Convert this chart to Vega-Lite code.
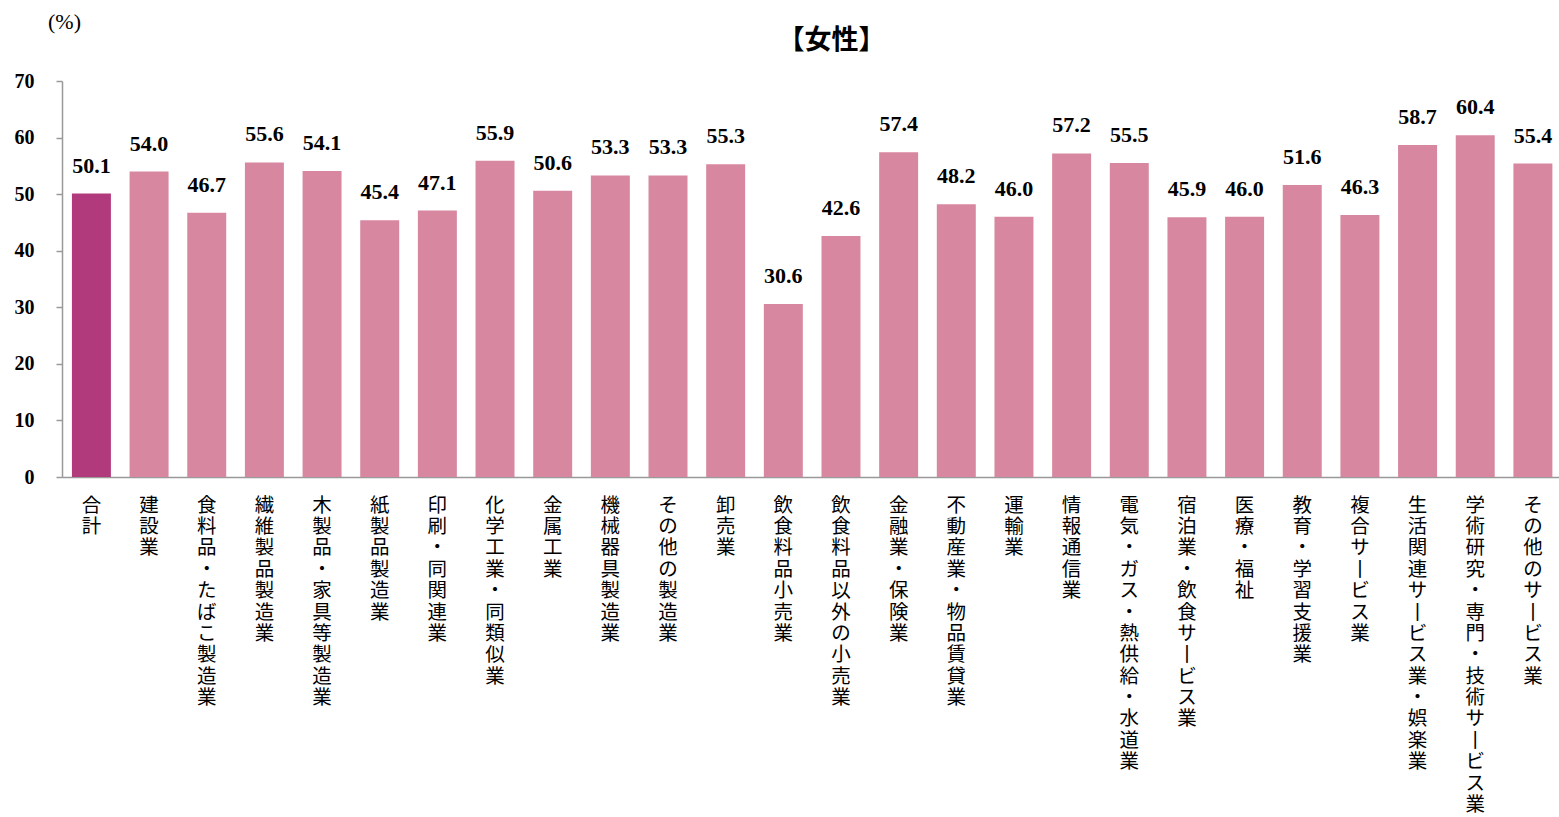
{
  "$schema": "https://vega.github.io/schema/vega-lite/v6.json",
  "autosize": "none",
  "padding": {"left": 62, "top": 81, "right": 0, "bottom": 340},
  "width": 1497,
  "height": 396,
  "background": "white",
  "title": {
    "text": "【女性】",
    "font": "Noto Sans CJK JP",
    "fontSize": 27,
    "fontWeight": "bold",
    "color": "#000000",
    "anchor": "middle",
    "frame": "group",
    "dx": 21,
    "offset": -45
  },
  "data": {
    "values": [
      {"industry": "合計", "rate": 50.1, "group": "total"},
      {"industry": "建設業", "rate": 54.0, "group": "industry"},
      {"industry": "食料品・たばこ製造業", "rate": 46.7, "group": "industry"},
      {"industry": "繊維製品製造業", "rate": 55.6, "group": "industry"},
      {"industry": "木製品・家具等製造業", "rate": 54.1, "group": "industry"},
      {"industry": "紙製品製造業", "rate": 45.4, "group": "industry"},
      {"industry": "印刷・同関連業", "rate": 47.1, "group": "industry"},
      {"industry": "化学工業・同類似業", "rate": 55.9, "group": "industry"},
      {"industry": "金属工業", "rate": 50.6, "group": "industry"},
      {"industry": "機械器具製造業", "rate": 53.3, "group": "industry"},
      {"industry": "その他の製造業", "rate": 53.3, "group": "industry"},
      {"industry": "卸売業", "rate": 55.3, "group": "industry"},
      {"industry": "飲食料品小売業", "rate": 30.6, "group": "industry"},
      {"industry": "飲食料品以外の小売業", "rate": 42.6, "group": "industry"},
      {"industry": "金融業・保険業", "rate": 57.4, "group": "industry"},
      {"industry": "不動産業・物品賃貸業", "rate": 48.2, "group": "industry"},
      {"industry": "運輸業", "rate": 46.0, "group": "industry"},
      {"industry": "情報通信業", "rate": 57.2, "group": "industry"},
      {"industry": "電気・ガス・熱供給・水道業", "rate": 55.5, "group": "industry"},
      {"industry": "宿泊業・飲食サービス業", "rate": 45.9, "group": "industry"},
      {"industry": "医療・福祉", "rate": 46.0, "group": "industry"},
      {"industry": "教育・学習支援業", "rate": 51.6, "group": "industry"},
      {"industry": "複合サービス業", "rate": 46.3, "group": "industry"},
      {"industry": "生活関連サービス業・娯楽業", "rate": 58.7, "group": "industry"},
      {"industry": "学術研究・専門・技術サービス業", "rate": 60.4, "group": "industry"},
      {"industry": "その他のサービス業", "rate": 55.4, "group": "industry"}
    ]
  },
  "encoding": {
    "x": {
      "field": "industry",
      "type": "nominal",
      "sort": null,
      "scale": {"paddingInner": 0.324, "paddingOuter": 0.1435, "align": 0.6},
      "axis": {
        "title": null,
        "domainColor": "#999999",
        "domainWidth": 1.5,
        "ticks": false,
        "labelAngle": 0,
        "labelAlign": "center",
        "labelBaseline": "top",
        "labelPadding": 19,
        "labelFont": "Noto Sans CJK JP",
        "labelFontSize": 19.5,
        "labelLineHeight": 21.4,
        "labelColor": "#000000",
        "labelLimit": 1000,
        "labelOverlap": false,
        "labelExpr": "split(replace(datum.label, /ー/g, '丨'), '')"
      }
    },
    "y": {
      "field": "rate",
      "type": "quantitative",
      "scale": {"domain": [0, 70], "nice": false},
      "axis": {
        "title": "(%)",
        "titleAngle": 0,
        "titleX": 2,
        "titleY": -60,
        "titleAlign": "center",
        "titleBaseline": "middle",
        "titleFont": "Liberation Serif",
        "titleFontSize": 22,
        "titleFontWeight": "normal",
        "titleColor": "#000000",
        "values": [0, 10, 20, 30, 40, 50, 60, 70],
        "grid": false,
        "domainColor": "#999999",
        "domainWidth": 1.5,
        "tickColor": "#999999",
        "tickWidth": 1.5,
        "tickSize": 6,
        "labelPadding": 22,
        "labelFont": "Liberation Serif",
        "labelFontSize": 20,
        "labelFontWeight": "bold",
        "labelColor": "#000000"
      }
    }
  },
  "layer": [
    {
      "mark": {"type": "bar"},
      "encoding": {
        "color": {
          "field": "group",
          "type": "nominal",
          "scale": {"domain": ["total", "industry"], "range": ["#B13A7C", "#D7879F"]},
          "legend": null
        }
      }
    },
    {
      "mark": {
        "type": "text",
        "baseline": "alphabetic",
        "dy": -21,
        "font": "Liberation Serif",
        "fontSize": 22,
        "fontWeight": "bold",
        "color": "#000000"
      },
      "encoding": {
        "text": {"field": "rate", "type": "quantitative", "format": ".1f"}
      }
    }
  ],
  "config": {
    "view": {"stroke": null}
  }
}
